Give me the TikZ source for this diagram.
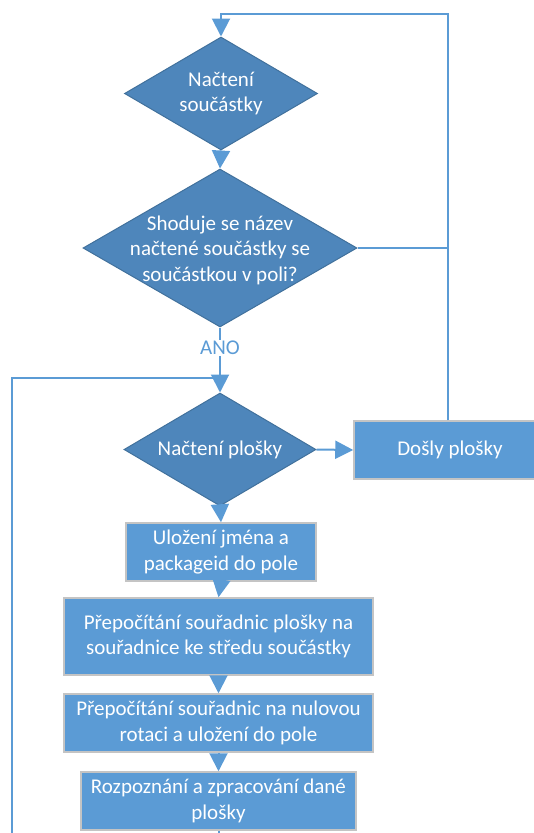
\documentclass[tikz,border=0pt]{standalone}
\usepackage{fontspec}
\setmainfont{Carlito}
\usetikzlibrary{shapes.geometric,arrows.meta}
\definecolor{flowline}{HTML}{5B9BD5}
\definecolor{boxfill}{HTML}{5B9BD5}
\definecolor{boxedge}{HTML}{C4C4C4}
\definecolor{decfill}{HTML}{4E86BB}
\definecolor{decedge}{HTML}{41719C}
\tikzset{
  decision/.style={diamond, fill=decfill, draw=decedge, line width=1pt,
    inner sep=0pt, minimum width=#1},
  dtext/.style={text=white, align=center, font=\fontsize{21}{25.5}\selectfont},
  stepbox/.style={rectangle, fill=boxfill, draw=boxedge, line width=1.5pt,
    inner sep=0pt, text=white, align=center, font=\fontsize{21}{25.5}\selectfont},
  flow/.style={draw=flowline, line width=2pt},
  arr/.style={flow, -{Triangle[width=18pt,length=18pt]}},
}
\begin{document}
\begin{tikzpicture}[x=1pt,y=-1pt]
  \useasboundingbox (0,0) rectangle (534,833);

  % decisions
  \node[decision=193pt, minimum height=113pt] (d1) at (221,93.5) {};
  \node[dtext] (d1t) at (d1.center) {Načtení\\součástky};
  \node[decision=274pt, minimum height=158pt] (d2) at (220,248) {};
  \node[dtext] (d2t) at (220,250) {Shoduje se název\\načtené součástky se\\součástkou v poli?};
  \node[decision=192pt, minimum height=113pt] (d3) at (220,449.5) {};
  \node[dtext] (d3t) at (d3.center) {Načtení plošky};

  % process boxes
  \node[stepbox, minimum width=192pt, minimum height=58pt] (dosly) at (450,450) {Došly plošky};
  \node[stepbox, minimum width=190pt, minimum height=58pt] (b1) at (221,552) {Uložení jména a\\packageid do pole};
  \node[stepbox, minimum width=309pt, minimum height=77pt] (b2) at (218.5,636.5) {Přepočítání souřadnic plošky na\\souřadnice ke středu součástky};
  \node[stepbox, minimum width=309pt, minimum height=58pt] (b3) at (218.5,723) {Přepočítání souřadnic na nulovou\\rotaci a uložení do pole};
  \node[stepbox, minimum width=275pt, minimum height=58pt] (b4) at (218.5,801) {Rozpoznání a zpracování dané\\plošky};

  % label on the yes branch
  \node[text=flowline, font=\fontsize{21}{25.5}\selectfont, inner sep=1pt] (ano) at (220,348) {ANO};

  % helper points for the loops
  \coordinate (topc) at (221,14);
  \coordinate (rjoin) at (448,248);
  \coordinate (ljoin) at (220,378);
  \coordinate (lbot) at (12,840);
  \coordinate (bbot) at (218.5,840);

  % connectors
  \draw[arr] (dosly.north -| rjoin) |- (topc) -- (d1.north);
  \draw[arr] (d1.south) -- (d2.north);
  \draw[flow] (d2.east) -- (rjoin);
  \draw[flow] (d2.south) -- (ano.north);
  \draw[arr] (ano.south) -- (d3.north);
  \draw[flow] (lbot) |- (ljoin);
  \draw[arr] (d3.east) -- (dosly.west);
  \draw[arr] (d3.south) -- (b1.north);
  \draw[arr] (b1.south) -- (b2.north);
  \draw[arr] (b2.south) -- (b3.north);
  \draw[arr] (b3.south) -- (b4.north);
  \draw[flow] (b4.south) -- (bbot);
\end{tikzpicture}
\end{document}
